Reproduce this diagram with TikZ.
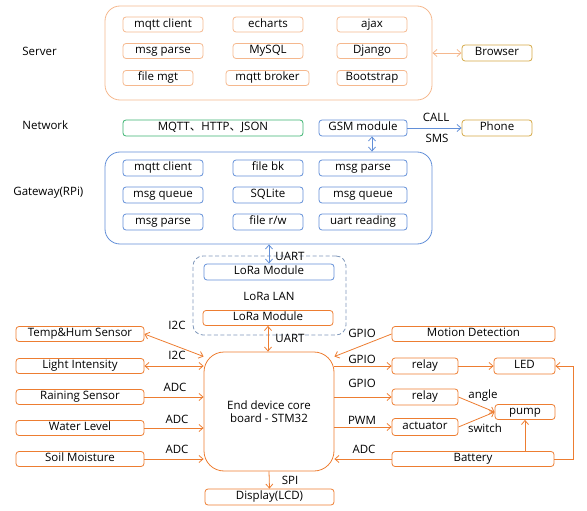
\documentclass[tikz,border=0pt]{standalone}
\usepackage{fontspec}
\setmainfont{Open Sans}
\newfontfamily\cjk{Noto Sans CJK SC}
\usepackage{tikz}
\usetikzlibrary{arrows.meta}
\definecolor{peach}{HTML}{F5B88E}
\definecolor{endorange}{HTML}{ED7D31}
\definecolor{gwblue}{HTML}{628FD8}
\definecolor{netgreen}{HTML}{3CB371}
\definecolor{gold}{HTML}{D4A845}
\definecolor{lanblue}{HTML}{7F97BA}

\begin{document}
\begin{tikzpicture}[x=1pt,y=-1pt,line width=0.8pt,>={Straight Barb[length=4pt,width=7pt]},
  font=\fontsize{11.5}{13}\selectfont]
\tikzstyle{every node}+=[inner sep=0pt]
\tikzstyle{sbox}=[draw,rounded corners=3pt,minimum height=15pt,text height=8.3pt,text depth=2.4pt]
\tikzstyle{srv}=[sbox,peach,text=black]
\tikzstyle{gw}=[sbox,gwblue,text=black]
\tikzstyle{dev}=[sbox,endorange,text=black]
\tikzstyle{ext}=[sbox,gold,text=black]
\useasboundingbox (0,0) rectangle (587,511);

\node [draw,peach,rounded corners=15pt,minimum width=327pt,minimum height=94pt] (server) at (268.5,53) {};
\node [srv,minimum width=80pt] (s1) at (163,24.5) {mqtt client};
\node [srv,minimum width=70pt] (s2) at (268,24.5) {echarts};
\node [srv,minimum width=70pt] (s3) at (372,24.5) {ajax};
\node [srv,minimum width=80pt] (s4) at (163,51) {msg parse};
\node [srv,minimum width=70pt] (s5) at (268,51) {MySQL};
\node [srv,minimum width=70pt] (s6) at (372,51) {Django};
\node [srv,minimum width=70pt] (s7) at (158,78) {file mgt};
\node [srv,minimum width=83pt] (s8) at (267.5,78) {mqtt broker};
\node [srv,minimum width=70pt] (s9) at (372,78) {Bootstrap};
\node [ext,minimum width=70pt,minimum height=16pt] (browser) at (497,53) {Browser};
\node [anchor=west] (lserver) at (22,51) {Server};

\node [anchor=west] (lnet) at (22,125) {Network};
\node [sbox,netgreen,text=black,minimum width=180pt,minimum height=16pt] (proto) at (213,128) {MQTT{\cjk 、}HTTP{\cjk 、}JSON};
\node [gw,minimum width=88pt,minimum height=16pt] (gsm) at (363,128) {GSM module};
\node [ext,minimum width=70pt,minimum height=16pt] (phone) at (497,128) {Phone};

\node [draw,gwblue,rounded corners=15pt,minimum width=327pt,minimum height=92pt] (gateway) at (268.5,198) {};
\node [anchor=west] (lgw) at (13,193) {Gateway(RPi)};
\node [gw,minimum width=80pt,minimum height=16pt] (g1) at (163,168) {mqtt client};
\node [gw,minimum width=70pt,minimum height=16pt] (g2) at (268,168) {file bk};
\node [gw,minimum width=88pt,minimum height=16pt] (g3) at (363,168) {msg parse};
\node [gw,minimum width=80pt,minimum height=16pt] (g4) at (163,195) {msg queue};
\node [gw,minimum width=70pt,minimum height=16pt] (g5) at (268,195) {SQLite};
\node [gw,minimum width=88pt,minimum height=16pt] (g6) at (363,195) {msg queue};
\node [gw,minimum width=80pt,minimum height=16pt] (g7) at (163,222) {msg parse};
\node [gw,minimum width=70pt,minimum height=16pt] (g8) at (268,222) {file r/w};
\node [gw,minimum width=88pt,minimum height=16pt] (g9) at (363,222) {uart reading};

\node [draw,lanblue,dash pattern=on 4pt off 2.5pt,rounded corners=10pt,minimum width=153pt,minimum height=79pt] (lan) at (269.5,295.5) {};
\node [gw,minimum width=130pt,minimum height=16pt] (lora1) at (269,272) {LoRa Module};
\node (llan) at (269,296) {LoRa LAN};
\node [dev,minimum width=130pt] (lora2) at (268,318) {LoRa Module};

\node [draw,endorange,rounded corners=20pt,minimum width=130pt,minimum height=119pt,align=center,text=black] (stm) at (269,411.5) {End device core\\board - STM32};
\node [dev,minimum width=129pt,minimum height=16pt] (lcd) at (269.5,497) {Display(LCD)};

\node [dev,minimum width=128pt] (temp) at (80,334) {Temp\&Hum Sensor};
\node [dev,minimum width=128pt] (light) at (80,366) {Light Intensity};
\node [dev,minimum width=128pt] (rain) at (80,397) {Raining Sensor};
\node [dev,minimum width=128pt] (water) at (80,428) {Water Level};
\node [dev,minimum width=128pt] (soil) at (80,459) {Soil Moisture};

\node [dev,minimum width=163pt] (motion) at (473.5,334) {Motion Detection};
\node [dev,minimum width=66pt,minimum height=16pt] (relay1) at (425,366) {relay};
\node [dev,minimum width=61pt,minimum height=16pt] (led) at (524.5,366) {LED};
\node [dev,minimum width=66pt,minimum height=16pt] (relay2) at (425,397) {relay};
\node [dev,minimum width=60pt] (pump) at (525,412) {pump};
\node [dev,minimum width=66pt,minimum height=17pt] (act) at (425,427) {actuator};
\node [dev,minimum width=162pt] (battery) at (473,459) {Battery};

\draw [peach,<->] (server.east) -- (browser.west);
\draw [gwblue,->] (gsm.east) -- (phone.west);
\node (lcall) at (436,117) {CALL};
\node (lsms) at (437,138) {SMS};
\draw [gwblue,<->] ([xshift=9pt]gsm.south) -- ([xshift=9pt]gsm.south |- gateway.north);
\draw [gwblue,<->] (gateway.south -| lora1) -- (lora1.north);
\node (luart1) at (290,256) {UART};
\draw [endorange,<->] (lora2.south) -- (lora2.south |- stm.north);
\node (luart2) at (290,338) {UART};
\draw [endorange,->] (stm.south) -- (lcd.north);
\node (lspi) at (290,480) {SPI};

\draw [endorange,<->] (temp.east) -- ([yshift=55pt]stm.west);
\node (li2c1) at (177,325) {I2C};
\draw [endorange,<->] (light.east) -- (light.east -| stm.west);
\node (li2c2) at (177,355) {I2C};
\draw [endorange,->] (rain.east) -- (rain.east -| stm.west);
\node (ladc1) at (175,387) {ADC};
\draw [endorange,->] (water.east) -- (water.east -| stm.west);
\node (ladc2) at (177,419) {ADC};
\draw [endorange,->] (soil.east) -- (soil.east -| stm.west);
\node (ladc3) at (177,449) {ADC};

\draw [endorange,->] (motion.west) -- ([yshift=55pt]stm.east);
\node (lgpio1) at (362,333) {GPIO};
\draw [endorange,->] (stm.east |- relay1) -- (relay1.west);
\node (lgpio2) at (362,359) {GPIO};
\draw [endorange,->] (stm.east |- relay2) -- (relay2.west);
\node (lgpio3) at (362,383) {GPIO};
\draw [endorange,->] (stm.east |- act) -- (act.west);
\node (lpwm) at (362,420) {PWM};
\draw [endorange,->] (battery.west) -- (battery.west -| stm.east);
\node (ladc4) at (364,449) {ADC};
\draw [endorange,->] (relay1.east) -- (led.west);
\draw [endorange,->] (relay2.east) -- (pump.west);
\node (langle) at (483,396) {angle};
\draw [endorange,->] (act.east) -- (pump.west);
\node (lswitch) at (485,428) {switch};
\draw [endorange,->] (pump.south |- battery.north) -- (pump.south);
\draw [endorange,->] (battery.east) -- ++(19,0) |- (led.east);
\end{tikzpicture}
\end{document}
